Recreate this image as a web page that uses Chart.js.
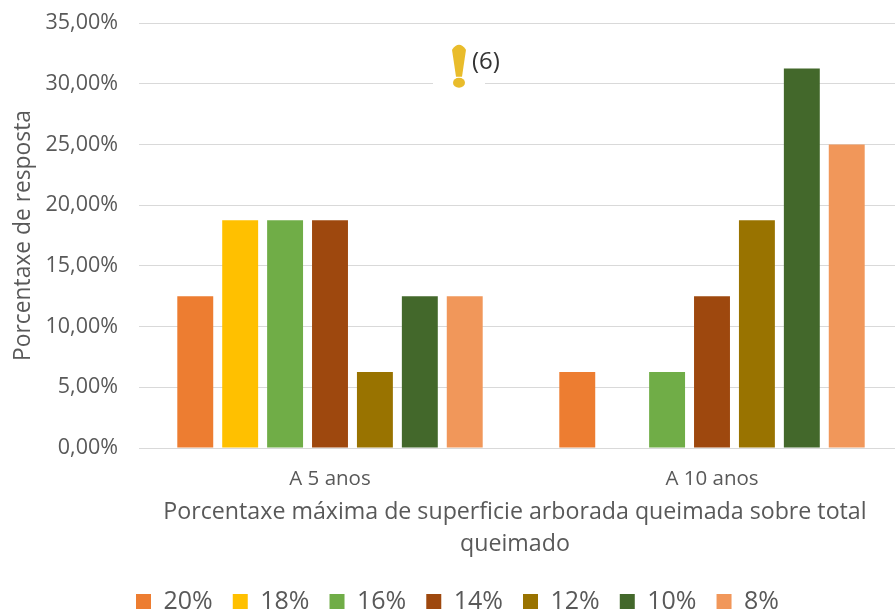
<!DOCTYPE html>
<html>
<head>
<meta charset="utf-8">
<script src="https://cdn.jsdelivr.net/npm/chart.js@4"></script>
<style>
html, body { margin: 0; padding: 0; background: #fff; overflow: hidden; }
#grafico { display: block; }
</style>
</head>
<body>
<!-- o lenzo é máis ancho ca a xanela: as liñas da grella saen polo bordo dereito -->
<canvas id="grafico" width="903" height="612"></canvas>
<script>
const categorias = ['A 5 anos', 'A 10 anos'];
const series = ['20%', '18%', '16%', '14%', '12%', '10%', '8%'];
const colores = ['#ED7D31', '#FFC000', '#70AD47', '#9E480E', '#997300', '#43682B', '#F1975A'];
const v20 = [12.5, 6.25];
const v18 = [18.75, 0];
const v16 = [18.75, 6.25];
const v14 = [18.75, 12.5];
const v12 = [6.25, 18.75];
const v10 = [12.5, 31.25];
const v8 = [12.5, 25];
const valores = [v20, v18, v16, v14, v12, v10, v8];
const FONTE = '"Open Sans", sans-serif';

// aviso "(6)" sobre a liña do 30 %
const aviso = {
    id: 'aviso',
    afterDatasetsDraw(chart) {
        const { ctx, scales } = chart;
        const cx = scales.x.left + 320;
        const cy = scales.y.getPixelForValue(30);
        ctx.save();
        ctx.fillStyle = '#fff';
        ctx.fillRect(cx - 26, cy - 42, 52, 56);
        ctx.fillStyle = '#E9BC2B';
        ctx.beginPath();
        ctx.moveTo(cx - 7, cy - 34);
        ctx.quadraticCurveTo(cx, cy - 44, cx + 7, cy - 34);
        ctx.lineTo(cx + 3, cy - 7);
        ctx.lineTo(cx - 3, cy - 7);
        ctx.closePath();
        ctx.fill();
        ctx.beginPath();
        ctx.ellipse(cx, cy - 1, 6, 5, 0, 0, Math.PI * 2);
        ctx.fill();
        ctx.fillStyle = '#333';
        ctx.font = '24px ' + FONTE;
        ctx.textBaseline = 'middle';
        ctx.fillText('(6)', cx + 13, cy - 22);
        ctx.restore();
    },
};

new Chart(document.getElementById('grafico'), {
    type: 'bar',
    data: {
        labels: categorias,
        datasets: series.map((nome, i) => ({
            label: nome,
            data: valores[i],
            backgroundColor: colores[i],
            categoryPercentage: 0.823,
            barPercentage: 0.8,
        })),
    },
    plugins: [aviso],
    options: {
        responsive: false,
        animation: false,
        layout: { padding: { top: 23, left: 12, right: 0, bottom: -12 } },
        plugins: {
            tooltip: { enabled: false },
            legend: {
                position: 'bottom',
                labels: {
                    color: '#595959',
                    font: { family: FONTE, size: 25 },
                    boxWidth: 15,
                    boxHeight: 15,
                    padding: 20,
                },
            },
        },
        scales: {
            x: {
                grid: { display: false },
                border: { color: '#d9d9d9' },
                ticks: { color: '#595959', font: { family: FONTE, size: 20.5 }, padding: 11 },
                title: {
                    display: true,
                    text: ['Porcentaxe máxima de superficie arborada queimada sobre total  ', 'queimado  '],
                    color: '#595959',
                    font: { family: FONTE, size: 23.2, lineHeight: 1.39 },
                    padding: { top: 2, bottom: 8 },
                },
                afterFit(escala) { escala.height = 121; },
            },
            y: {
                min: 0,
                max: 35,
                ticks: {
                    stepSize: 5,
                    color: '#595959',
                    font: { family: FONTE, size: 21.5 },
                    padding: 21,
                    callback: (v) => v.toFixed(2).replace('.', ',') + '%',
                },
                grid: { color: '#d9d9d9', lineWidth: 1, drawTicks: false },
                border: { display: false },
                title: {
                    display: true,
                    text: 'Porcentaxe de resposta',
                    color: '#595959',
                    font: { family: FONTE, size: 22.8 },
                    padding: { top: -2, bottom: 0 },
                },
                afterFit(escala) {
                    escala.width = 127;
                    escala.paddingTop = 0;
                    escala.paddingBottom = 0;
                },
            },
        },
    },
});
</script>
</body>
</html>
